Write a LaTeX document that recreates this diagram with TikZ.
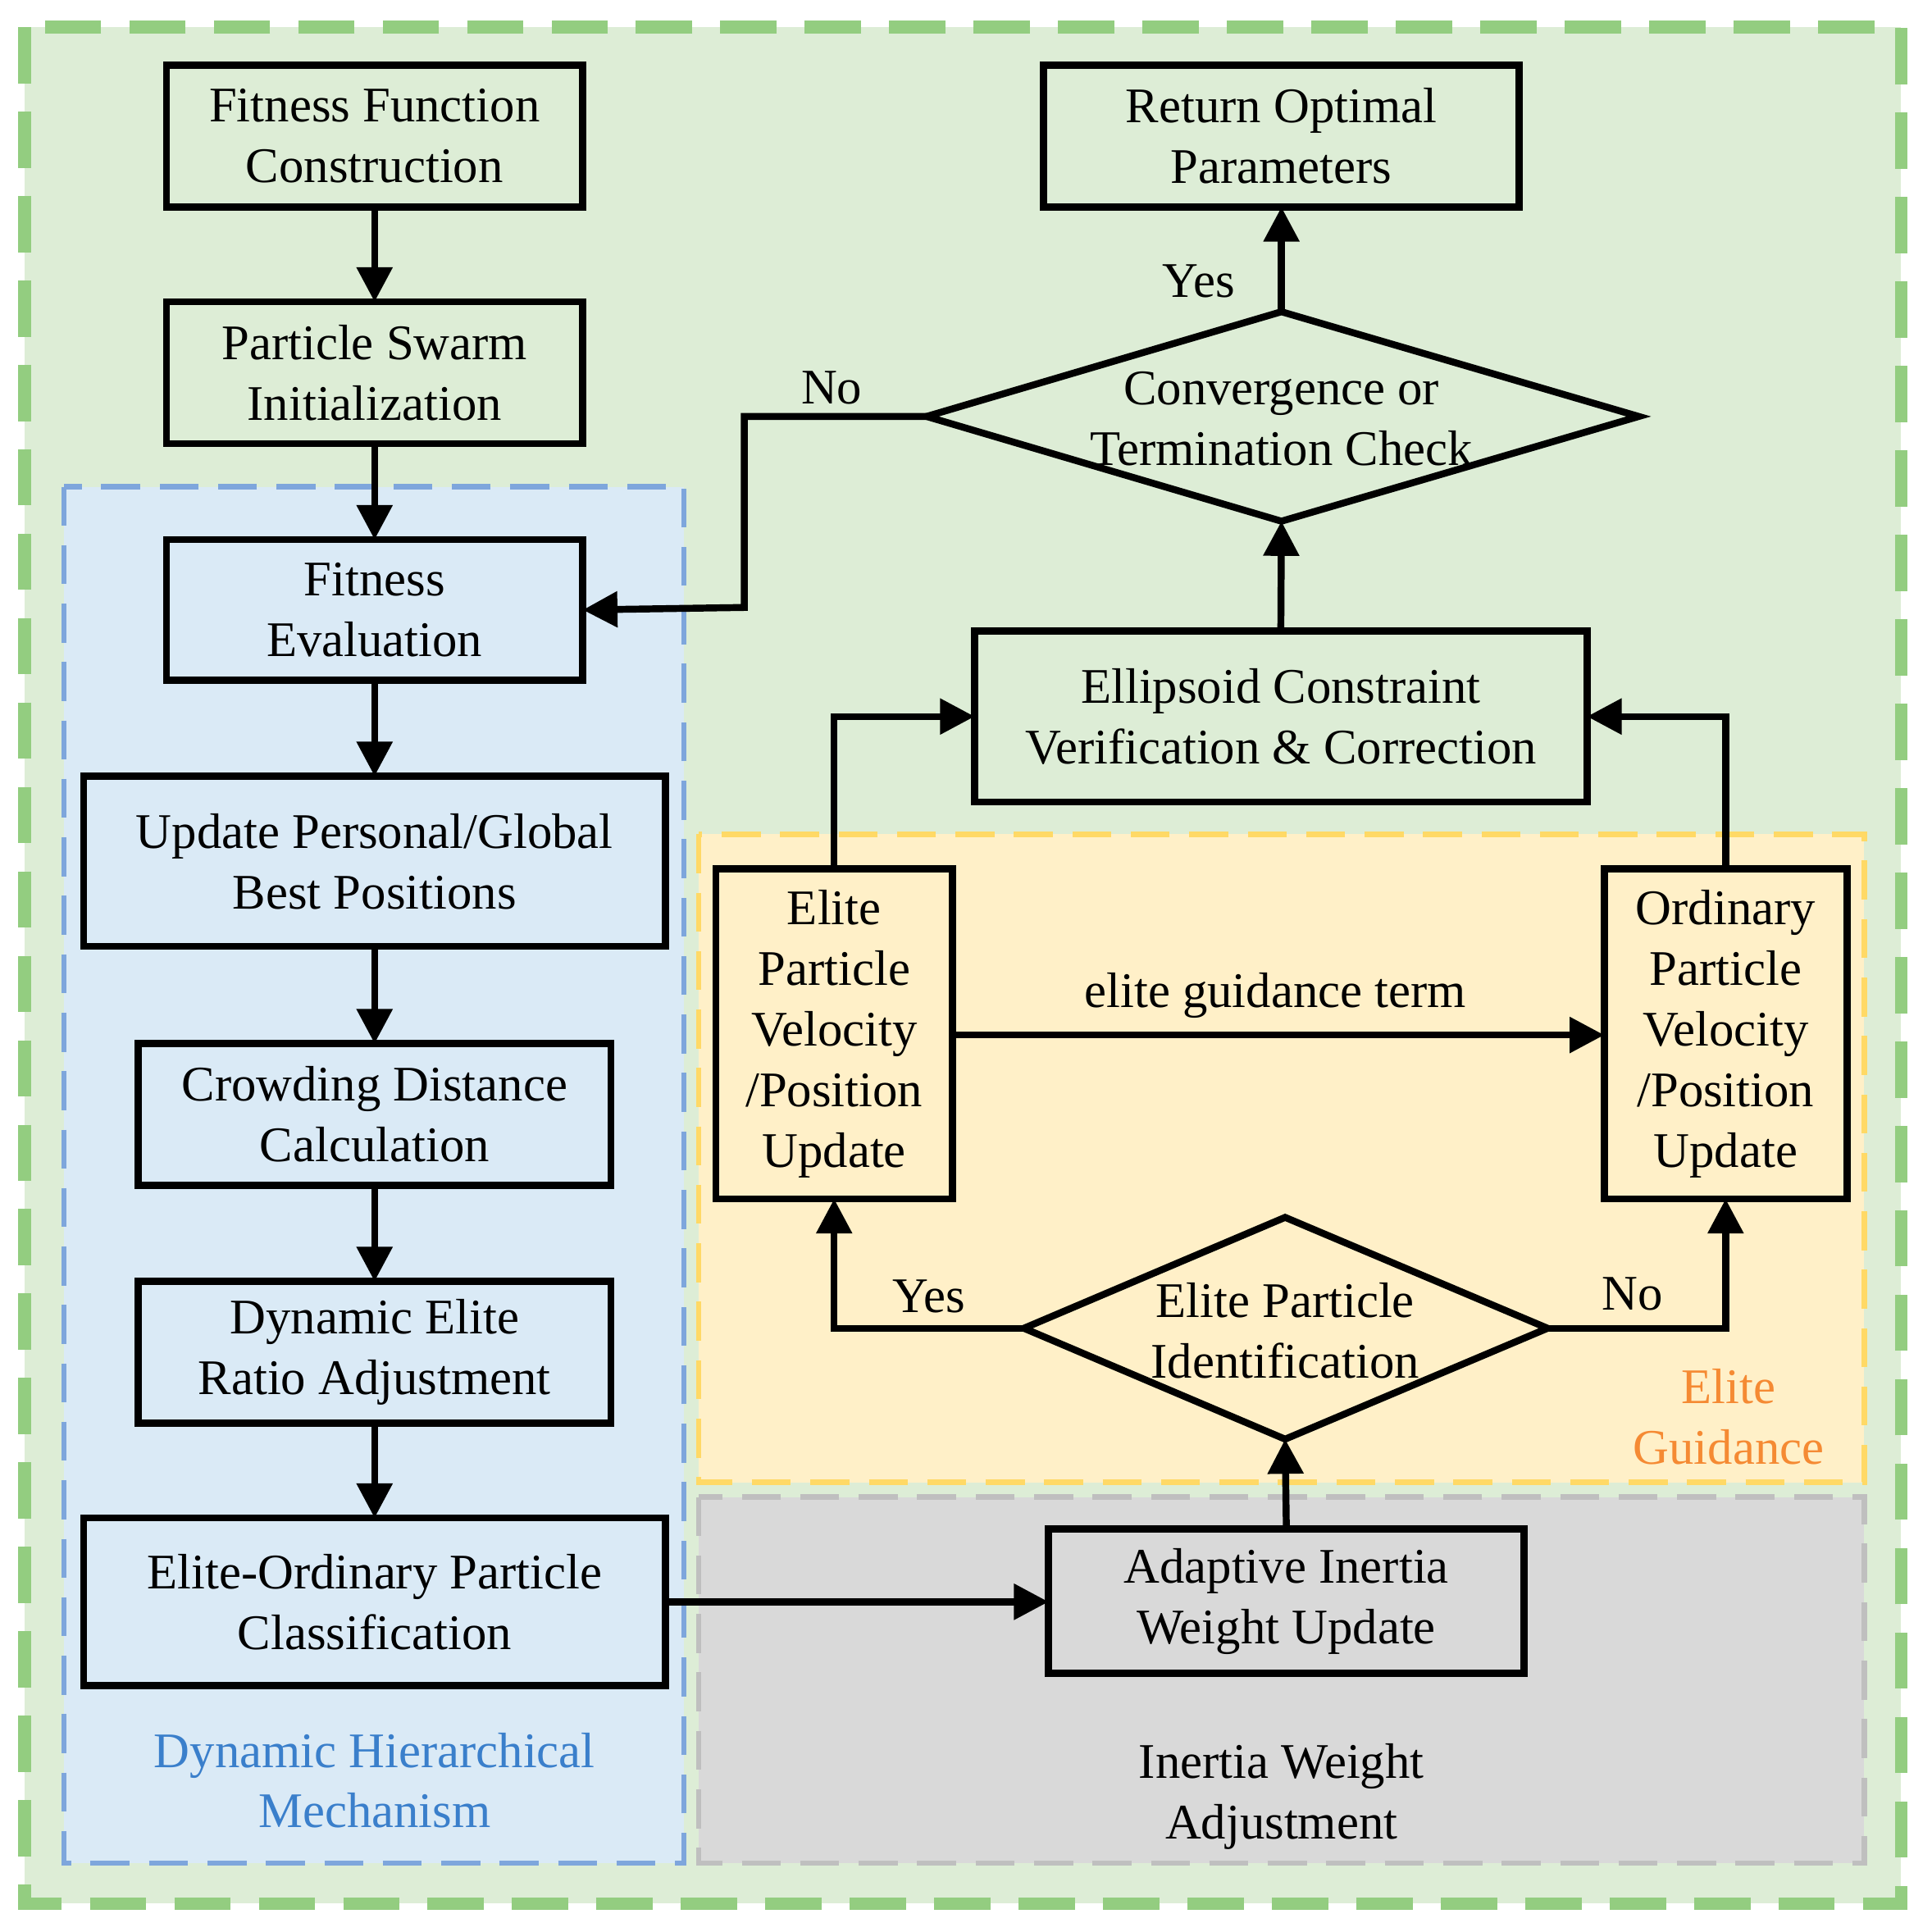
\documentclass[tikz,border=0pt]{standalone}
\usepackage{fontspec}
\setmainfont{Liberation Serif}
\usetikzlibrary{arrows.meta,shapes.geometric}
\definecolor{gfill}{HTML}{DDEDD6}\definecolor{gdash}{HTML}{93CD80}
\definecolor{bfill}{HTML}{DAEAF6}\definecolor{bdash}{HTML}{7EA6DC}
\definecolor{yfill}{HTML}{FFF0C8}\definecolor{ydash}{HTML}{FFD966}
\definecolor{kfill}{HTML}{D9D9D9}\definecolor{kdash}{HTML}{BFBFBF}
\definecolor{orangeT}{HTML}{F58A33}\definecolor{blueT}{HTML}{3A7FCB}
\begin{document}
\begin{tikzpicture}[x=0.02cm,y=-0.02cm,
  txt/.style={font=\fontsize{23}{28}\selectfont,align=center},
  box/.style={draw,line width=3.2pt,inner sep=0pt},
  arr/.style={line width=3.2pt,-{Triangle[length=16pt,width=16pt]}},
  reg/.style={line width=4pt,dash pattern=on 26pt off 13pt}]
\useasboundingbox (0,0) rectangle (1568,1568);
\draw[reg,fill=gfill,draw=gdash,line width=6pt] (20,22) rectangle (1543,1545);
\draw[reg,fill=bfill,draw=bdash,line width=2.5pt,dash pattern=on 18pt off 9pt] (52,395) rectangle (555,1512);
\draw[reg,fill=yfill,draw=ydash,line width=2.5pt,dash pattern=on 18pt off 9pt] (567,677) rectangle (1513,1203);
\draw[reg,fill=kfill,draw=kdash,line width=2.5pt,dash pattern=on 18pt off 9pt] (567,1215) rectangle (1513,1512);
% boxes
\newcommand{\bx}[6]{\draw[box] (#2,#3) rectangle (#4,#5); \node[txt] (#1) at ({(#2+#4)/2},{(#3+#5)/2}) {#6};
 \coordinate (#1-n) at ({(#2+#4)/2},#3); \coordinate (#1-s) at ({(#2+#4)/2},#5);
 \coordinate (#1-w) at (#2,{(#3+#5)/2}); \coordinate (#1-e) at (#4,{(#3+#5)/2});}
\bx{ffc}{135}{53}{473}{168}{Fitness Function\\Construction}
\bx{psi}{135}{245}{473}{360}{Particle Swarm\\Initialization}
\bx{fe}{135}{438}{473}{552}{Fitness\\Evaluation}
\bx{upg}{68}{630}{540}{768}{Update Personal/Global\\Best Positions}
\bx{cdc}{112}{847}{496}{962}{Crowding Distance\\Calculation}
\bx{der}{112}{1040}{496}{1155}{Dynamic Elite\\Ratio Adjustment}
\bx{eoc}{68}{1232}{540}{1368}{Elite-Ordinary Particle\\Classification}
\bx{aiw}{851}{1241}{1237}{1358}{Adaptive Inertia\\Weight Update}
\bx{epv}{581}{705}{773}{973}{Elite\\Particle\\Velocity\\/Position\\Update}
\bx{opv}{1302}{705}{1499}{973}{Ordinary\\Particle\\Velocity\\/Position\\Update}
\bx{ecv}{791}{512}{1288}{651}{Ellipsoid Constraint\\Verification \& Correction}
\bx{rop}{847}{53}{1233}{168}{Return Optimal\\Parameters}
% diamonds
\draw[line width=3.2pt,line join=miter] (831,1078) coordinate (epi-w) -- (1043,988) coordinate (epi-n) -- (1256,1078) coordinate (epi-e) -- (1043,1168) coordinate (epi-s) -- cycle;
\node[txt] (epi) at (1043,1080) {Elite Particle\\Identification};
\draw[line width=3.2pt,line join=miter] (752,338) coordinate (ctc-w) -- (1040,253) coordinate (ctc-n) -- (1330,338) coordinate (ctc-e) -- (1040,423) coordinate (ctc-s) -- cycle;
\node[txt] (ctc) at (1040,340) {Convergence or\\Termination Check};
% arrows
\draw[arr] (ffc-s) -- (psi-n);
\draw[arr] (psi-s) -- (fe-n);
\draw[arr] (fe-s) -- (upg-n);
\draw[arr] (upg-s) -- (cdc-n);
\draw[arr] (cdc-s) -- (der-n);
\draw[arr] (der-s) -- (eoc-n);
\draw[arr] (540,1300) -- (851,1300);
\draw[arr] (aiw-n) -- (epi-s);
\draw[arr] (epi-w) -| (epv-s);
\draw[arr] (epi-e) -| (opv-s);
\draw[arr] (773,840) -- (1302,840);
\draw[arr] (epv-n) |- (ecv-w);
\draw[arr] (opv-n) |- (ecv-e);
\draw[arr] (ecv-n) -- (ctc-s);
\draw[arr] (ctc-n) -- (rop-s);
\draw[arr] (ctc-w) -- (604,338) -- (604,493) -- (fe-e);
% labels
\node[txt] (l1) at (675,315) {No};
\node[txt] (l2) at (973,228) {Yes};
\node[txt] (l3) at (754,1052) {Yes};
\node[txt] (l4) at (1325,1050) {No};
\node[txt] (l5) at (1035,808) {elite guidance term};
\node[txt,text=orangeT] (l6) at (1403,1150) {Elite\\Guidance};
\node[txt,text=blueT] (l7) at (304,1445) {Dynamic Hierarchical\\Mechanism};
\node[txt] (l8) at (1040,1458) {Inertia Weight\\Adjustment};
\end{tikzpicture}
\end{document}
